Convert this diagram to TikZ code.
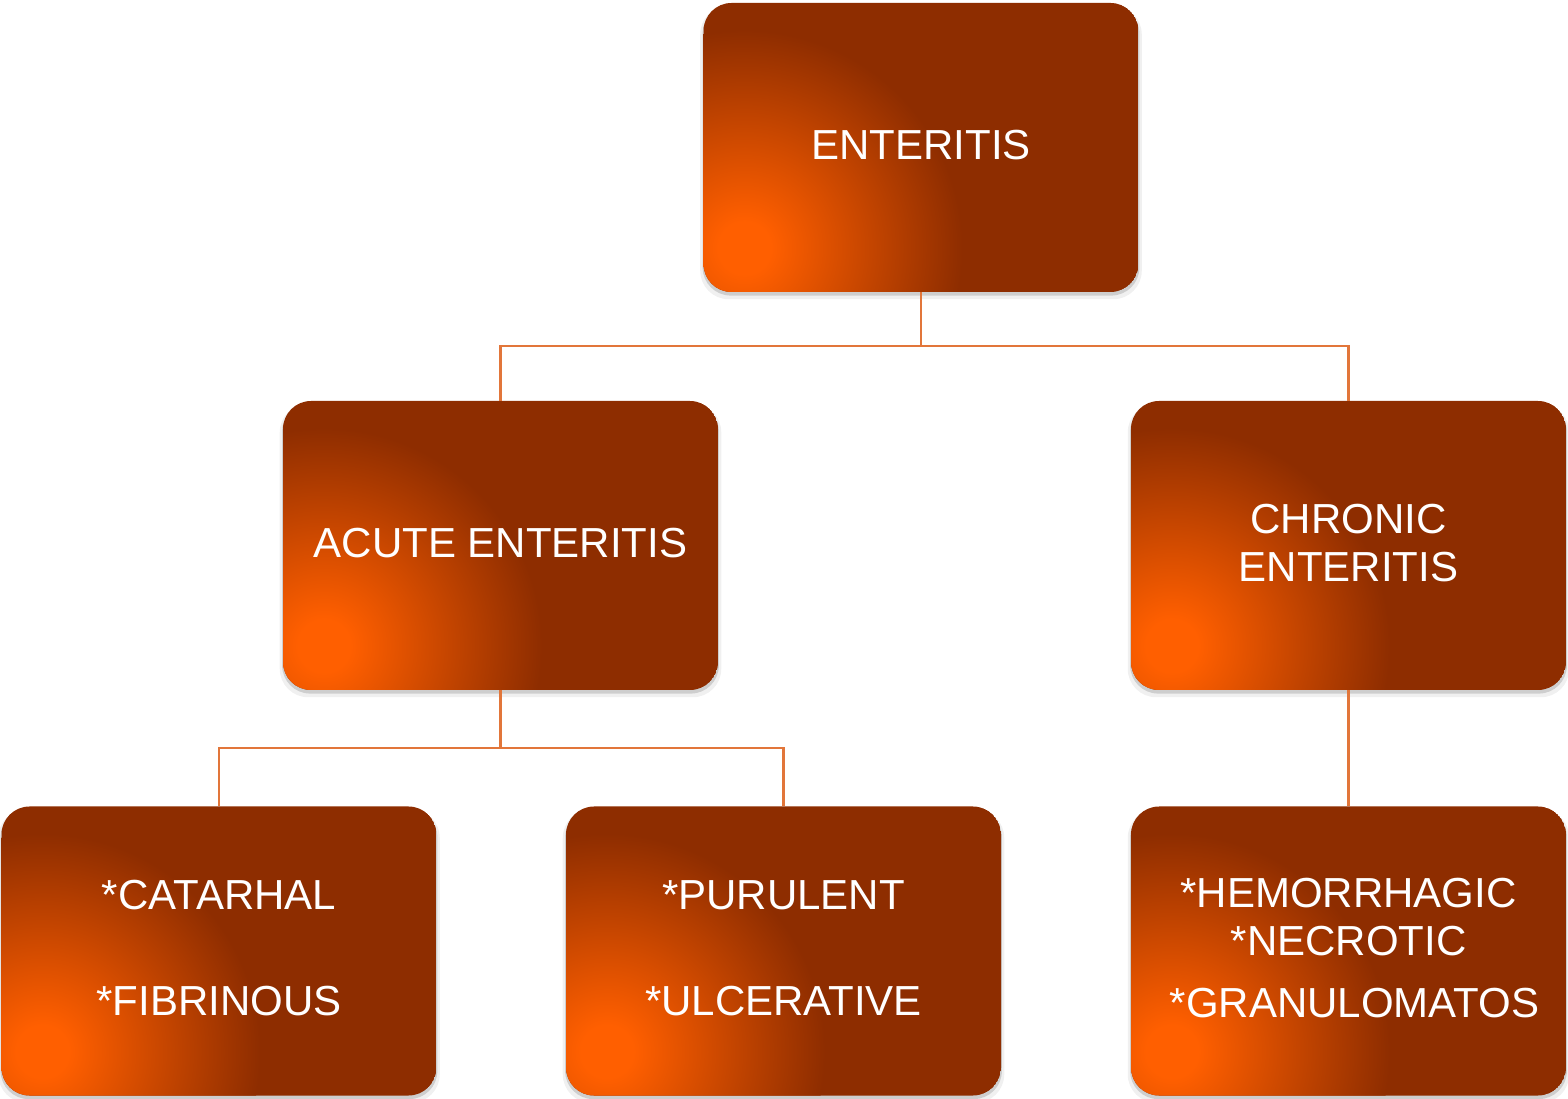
\documentclass[tikz,border=0pt]{standalone}
\usepackage{fontspec}
\setmainfont{Liberation Sans}
\usetikzlibrary{shadows}
\definecolor{orng}{HTML}{FF5F00}
\definecolor{brn}{HTML}{8E2D00}
\definecolor{conn}{HTML}{E2763A}
\pgfdeclareradialshading{boxglow}{\pgfpoint{0bp}{0bp}}{color(0bp)=(orng); color(3bp)=(orng); color(25bp)=(brn); color(50bp)=(brn)}
\begin{document}
\begin{tikzpicture}[x=1pt,y=1pt,
  box/.style={minimum width=435pt, minimum height=289pt, rounded corners=28pt, inner sep=0pt,
    text=white, align=center, font=\fontsize{42}{48}\selectfont, text depth=6pt,
    general shadow={fill=black, opacity=0.06, shadow yshift=-5pt, shadow scale=1.015},
    general shadow={fill=black, opacity=0.14, shadow yshift=-3pt, shadow scale=1.004},
    path picture={
      \fill[brn] (path picture bounding box.south west) rectangle (path picture bounding box.north east);
      \shade[shading=boxglow] ([xshift=41pt,yshift=44pt]path picture bounding box.south west) circle (218pt);
    }},
  link/.style={draw=conn, line width=2.5pt}]
\fill[white] (0,0) rectangle (1568,1098);
\useasboundingbox (0,0) rectangle (1568,1098);
\node[box] (top) at (921,950.5) {ENTERITIS};
\node[box] (acute) at (500.5,552.5) {ACUTE ENTERITIS};
\node[box] (chronic) at (1348.5,552.5) {CHRONIC\\ENTERITIS};
\node[box] (cat) at (219,147) {*CATARHAL\\[58pt]*FIBRINOUS};
\node[box] (pur) at (783.5,147) {*PURULENT\\[58pt]*ULCERATIVE};
\node[box] (hem) at (1348.5,147) {*HEMORRHAGIC\\*NECROTIC\\[14pt]\hspace*{12pt}*GRANULOMATOS};
\draw[link] (top.south) -- ++(0,-54) -| (acute.north);
\draw[link] (top.south) -- ++(0,-54) -| (chronic.north);
\draw[link] (acute.south) -- ++(0,-58) -| (cat.north);
\draw[link] (acute.south) -- ++(0,-58) -| (pur.north);
\draw[link] (chronic.south) -- (hem.north);
\end{tikzpicture}
\end{document}
